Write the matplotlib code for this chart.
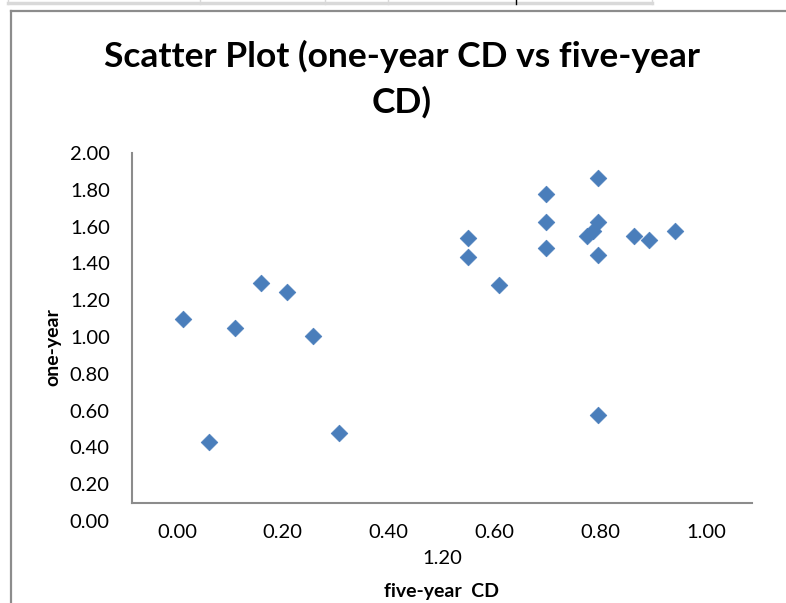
import matplotlib
matplotlib.use("Agg")
import matplotlib.pyplot as plt
from matplotlib.lines import Line2D

plt.rcParams["font.family"] = ["Lato", "DejaVu Sans"]

# five-year CD (x) vs one-year CD (y)
five_year = [0.012, 0.061, 0.110, 0.159, 0.207, 0.257, 0.306,
             0.551, 0.551, 0.609, 0.698, 0.698, 0.698,
             0.775, 0.786, 0.795, 0.795, 0.795, 0.795,
             0.864, 0.893, 0.942]
one_year = [1.099, 0.431, 1.051, 1.292, 1.243, 1.004, 0.480,
            1.540, 1.436, 1.283, 1.779, 1.627, 1.482,
            1.549, 1.576, 1.864, 1.627, 1.446, 0.576,
            1.549, 1.529, 1.578]

x_ticks = [0.0, 0.2, 0.4, 0.6, 0.8, 1.0]
y_ticks = [0.0, 0.2, 0.4, 0.6, 0.8, 1.0, 1.2, 1.4, 1.6, 1.8, 2.0]
wrapped_tick = "1.20"

W, H = 786, 603
fig = plt.figure(figsize=(W / 100, H / 100), dpi=100)

def box(l, t, r, b):
    return [l / W, (H - b) / H, (r - l) / W, (b - t) / H]

# chart border + spreadsheet strip on top
fig.add_artist(Line2D([11 / W, 11 / W], [0, 1 - 11 / H], color="#8c8c8c", lw=1.6))
fig.add_artist(Line2D([11 / W, 1], [1 - 11 / H, 1 - 11 / H], color="#8c8c8c", lw=1.6))
fig.add_artist(Line2D([8 / W, 652 / W], [1 - 3 / H, 1 - 3 / H], color="#d9d9d9", lw=2.5))
for xd in [8, 200, 325, 388, 652]:
    fig.add_artist(Line2D([xd / W, xd / W], [1 - 4 / H, 1], color="#d9d9d9", lw=1))
fig.add_artist(Line2D([516 / W, 516 / W], [1 - 4 / H, 1], color="black", lw=1))

# plot area frame (Excel axis lines)
frame = fig.add_axes(box(132, 153, 752, 503))
frame.set_xticks([])
frame.set_yticks([])
for s in ["top", "right"]:
    frame.spines[s].set_visible(False)
for s in ["left", "bottom"]:
    frame.spines[s].set_color("#8c8c8c")
    frame.spines[s].set_linewidth(1.5)

# data axes (carries the tick labels)
ax = fig.add_axes(box(132, 153, 752, 521))
ax.patch.set_alpha(0)
for s in ax.spines.values():
    s.set_visible(False)
ax.set_xlim((132 - 177) / 529, (752 - 177) / 529)
ax.set_ylim(0, 2)
ax.scatter(five_year, one_year, marker="D", s=72, color="#4a7ebb",
           edgecolors="#4a7ebb", linewidths=0.5, zorder=3)
ax.set_xticks(x_ticks)
ax.set_xticklabels([f"{v:.2f}" for v in x_ticks])
ax.set_yticks(y_ticks)
ax.set_yticklabels([f"{v:.2f}" for v in y_ticks])
ax.tick_params(axis="both", length=0, labelsize=14.5, colors="black")
ax.tick_params(axis="y", pad=16)
ax.tick_params(axis="x", pad=2)

fig.text(442 / W, 1 - 559 / H, wrapped_tick, ha="center", va="center", fontsize=14.5)
fig.text(442 / W, 1 - 592 / H, "five-year  CD", ha="center", va="center",
         fontsize=14, fontweight="bold")
fig.text(53 / W, 1 - 347 / H, "one-year", ha="center", va="center",
         rotation=90, fontsize=14, fontweight="bold")

fig.text(402 / W, 1 - 56 / H, "Scatter Plot (one-year CD vs five-year",
         ha="center", va="center", fontsize=25.5, fontweight="bold")
fig.text(402 / W, 1 - 102 / H, "CD)", ha="center", va="center",
         fontsize=25.5, fontweight="bold")

fig.savefig("out.png", dpi=100)
